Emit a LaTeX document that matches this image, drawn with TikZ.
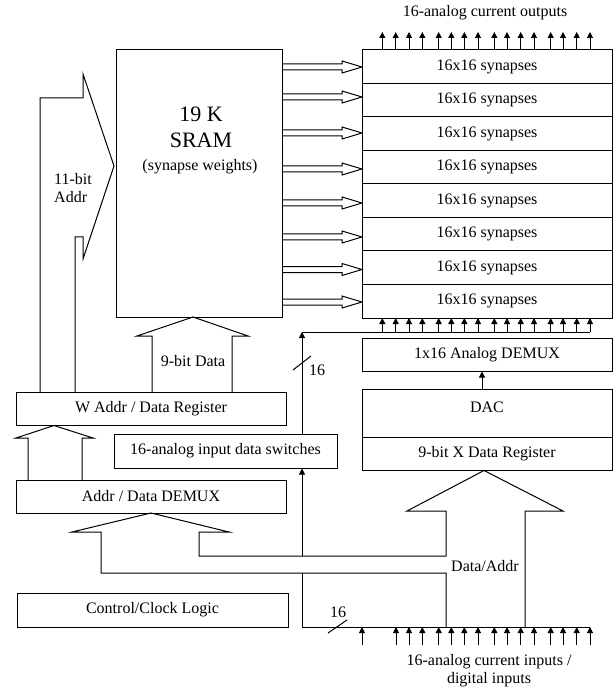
\documentclass[tikz,border=0pt]{standalone}
\usepackage{fontspec}
\setmainfont{Liberation Serif}
\usetikzlibrary{arrows.meta}
\begin{document}
\begin{tikzpicture}[x=1pt,y=-1pt,
  every node/.style={font=\fontsize{16}{18}\selectfont},
  box/.style={draw,line width=1pt,inner sep=0pt,minimum width=#1},
  ln/.style={line width=1pt,line join=miter},
  tri/.style={line width=1pt,-{Triangle[length=6pt,width=6pt]}},
  lbl/.style={inner sep=0pt}]
\useasboundingbox (0,0) rectangle (613,692);
% SRAM
\node[box=166pt,minimum height=267pt] (sram) at (199,183.5) {};
\node[lbl,font=\fontsize{22}{26}\selectfont,align=center] (sramt) at (201,127) {19 K\\SRAM};
\node[lbl] (sramw) at (200,167) {(synapse weights)};
% synapse rows
\foreach \i in {1,...,8}{
  \node[box=250pt,minimum height=33.5pt] (syn\i) at (487,{66.75+33.5*(\i-1)}) {16x16 synapses};
}
\node[box=250pt,minimum height=33pt] (demux) at (487,354.5) {1x16 Analog DEMUX};
\node[box=250pt,minimum height=48pt] (dac) at (487,413) {};
\node[lbl] (dact) at (487,407) {DAC};
\node[box=250pt,minimum height=33pt] (xreg) at (487,453.5) {9-bit X Data Register};
\node[box=270pt,minimum height=33pt] (wreg) at (151,408.5) {W Addr / Data Register};
\node[box=223pt,minimum height=34pt] (sw) at (225.5,451) {16-analog input data switches};
\node[box=270pt,minimum height=33pt] (admux) at (151,496.5) {Addr / Data DEMUX};
\node[box=271pt,minimum height=34pt] (ctrl) at (152.5,610) {Control/Clock Logic};
% 11-bit Addr block arrow
\draw[ln] (40,392) -- (40,98) -- (83,98) -- (83,74) -- (114,166) -- (83,259) -- (83,237) -- (75,237) -- (75,392);
\node[lbl,anchor=west,align=left] (addr) at (54,188.5) {11-bit\\Addr};
% 9-bit Data block arrow
\draw[ln] (152,392) -- (152,336) -- (137,336) -- (193,317) -- (248,336) -- (232,336) -- (232,392);
\node[lbl] (data9) at (193,361) {9-bit Data};
% Addr/Data DEMUX -> W reg
\draw[ln] (28,480) -- (28,438) -- (16,438) -- (54,425.5) -- (93,438) -- (82,438) -- (82,480);
% Data/Addr composite bus
\draw[ln] (446,627) -- (446,573) -- (101,573) -- (101,532) -- (72,532) -- (151,513) -- (229,532) -- (199,532) -- (199,556) -- (446,556) -- (446,511) -- (407,511) -- (484,470.5) -- (563,511) -- (525,511) -- (525,627);
\node[lbl] (dalbl) at (485,566) {Data/Addr};
% SRAM -> synapse bus arrows
\foreach \t in {67,97,133,169,203,237,269.5,302}{
  \draw[ln] (282,\t-3) -- (342,\t-3) -- (342,\t-6) -- (362,\t) -- (342,\t+6) -- (342,\t+3) -- (282,\t+3);
}
% analog input lines
\coordinate (bl) at (302,627);
\coordinate (br) at (590,627);
\draw[ln] (bl) -- (br);
\draw[ln] (bl) -- (302,573);
\draw[tri] (302,556) -- (sw.south -| bl);
\draw[tri] (sw.north -| bl) -- (302,332);
\draw[ln] (302,332) -- (590,332);
\draw[ln] (293,370) -- (311,356);
\node[lbl,anchor=west] (n16a) at (309,370) {16};
\draw[ln] (328,633) -- (347,620);
\node[lbl] (n16b) at (338,612) {16};
% arrow fans
\foreach \x in {382.3,395.7,409,422.3,438.7,451.3,464.3,478,494.3,507,520.7,534,550.7,563,576.7,590}{
  \draw[tri] (\x,50) -- (\x,32);
  \draw[tri] (\x,332) -- (\x,318);
}
\foreach \x in {362,396,409,422.3,438.7,451.3,464.3,478,494.3,507,520.7,534,550.7,563,576.7,590}{
  \draw[tri] (\x,645) -- (\x,627);
}
\draw[tri] (dac.north -| 482,0) -- (demux.south -| 482,0);
\node[lbl] (outl) at (485,13) {16-analog current outputs};
\node[lbl,align=center] (inl) at (489,671) {16-analog current inputs /\\digital inputs};
\end{tikzpicture}
\end{document}
